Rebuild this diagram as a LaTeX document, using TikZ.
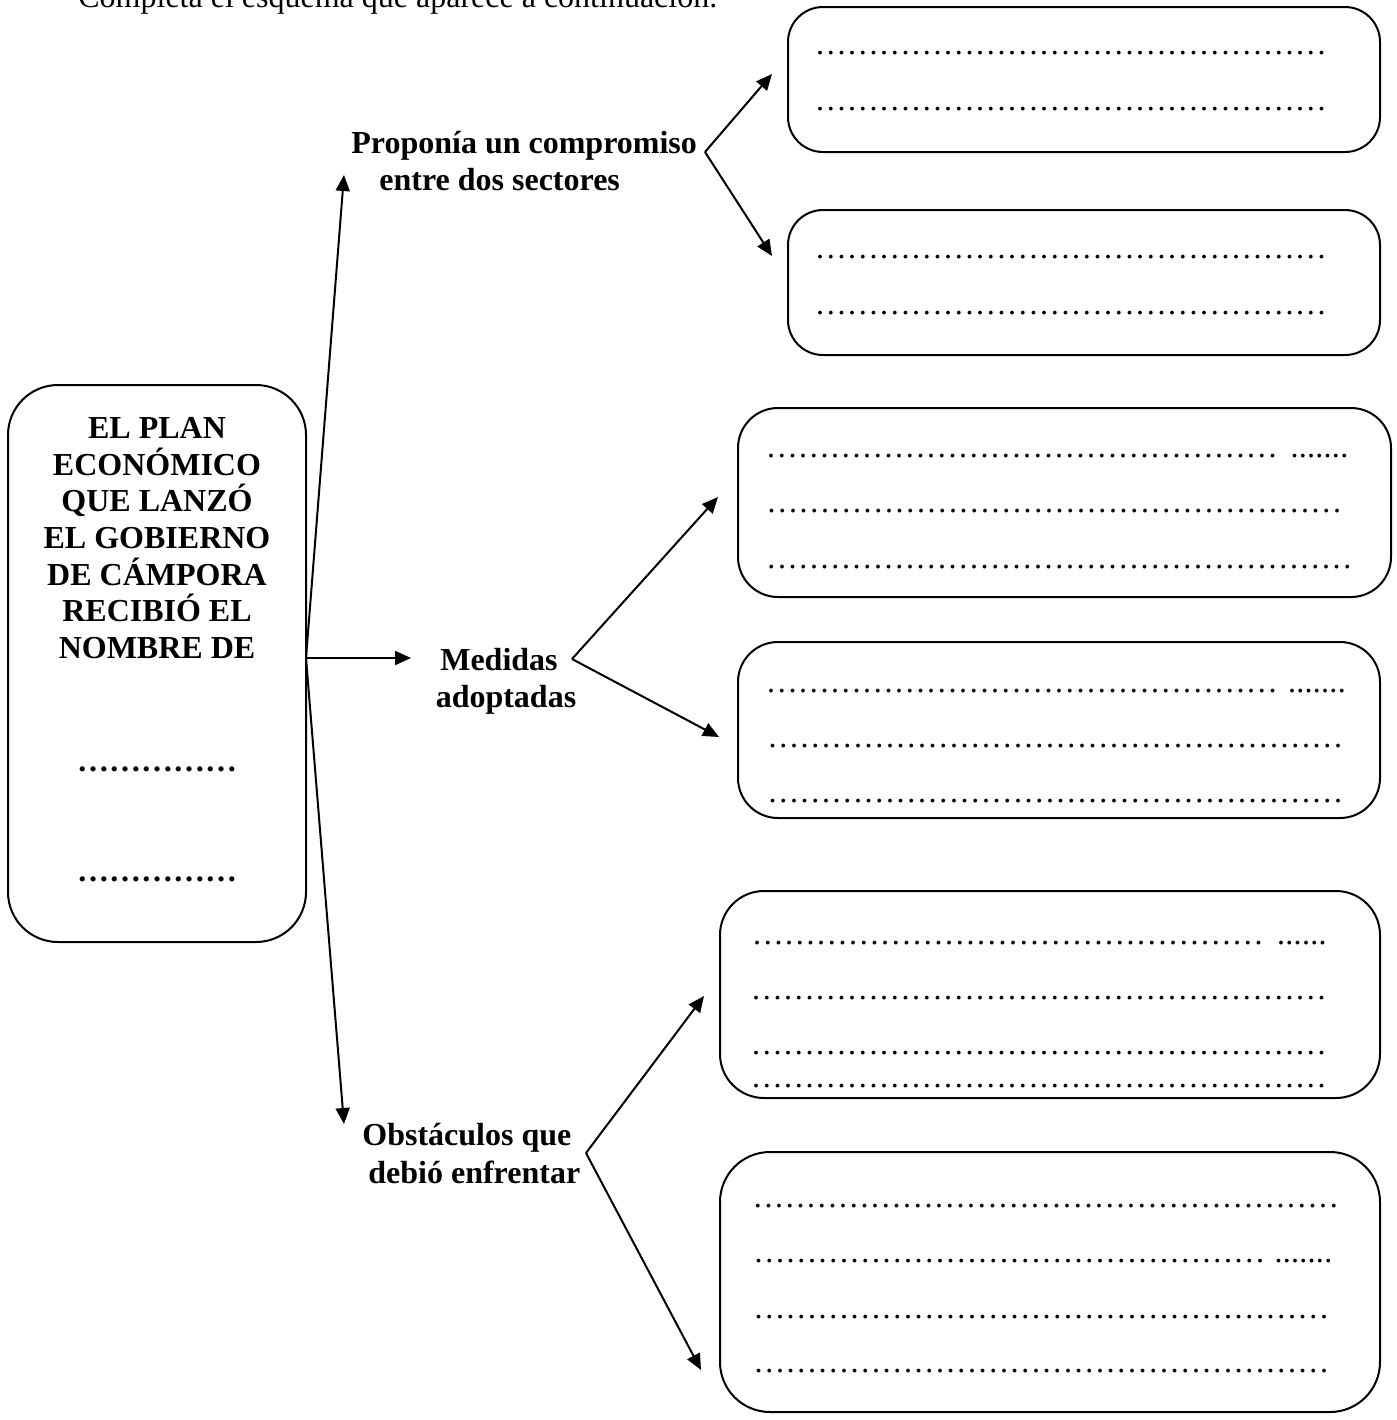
\documentclass[tikz,border=0pt]{standalone}
\usepackage{fontspec}
\setmainfont{Liberation Serif}
\usetikzlibrary{arrows.meta}
% dot row: #1 first dot x (px), #2 last dot x (px), #3 spacing (px); 1px = 0.5pt
\newcommand{\dotrow}[3]{\hbox to \dimexpr(#2pt-#1pt+#3pt)/2\relax{\cleaders\hbox to \dimexpr #3pt/2\relax{\hss.\hss}\hfill}}
\tikzset{
  box/.style={draw, line width=1pt, rounded corners=#1, inner sep=0pt},
  box/.default=17.5pt,
  arr/.style={line width=1pt, -{Triangle[length=8pt,width=7pt]}},
  txt/.style={anchor=base west, inner sep=0pt, font=\fontsize{16pt}{19pt}\selectfont\bfseries},
  ctxt/.style={anchor=base, inner sep=0pt, font=\fontsize{16pt}{19pt}\selectfont\bfseries},
  dr/.style={anchor=base west, inner sep=0pt, font=\fontsize{16pt}{19pt}\selectfont},
}
\begin{document}
\begin{tikzpicture}[x=0.5pt, y=-0.5pt]
\useasboundingbox (0,0) rectangle (1397,1420);

% instruction (cut at top)
\node[anchor=base west, inner sep=0pt, font=\fontsize{16pt}{19pt}\selectfont] (instr) at (78,7) {Completa el esquema que aparece a continuación.};

% main box
\node[box=25pt, minimum width=149pt, minimum height=278.5pt] (main) at (157,663.5) {};
\node[ctxt] (m1) at (157,438) {EL PLAN};
\node[ctxt] (m2) at (157,475) {ECONÓMICO};
\node[ctxt] (m3) at (157,511) {QUE LANZÓ};
\node[ctxt] (m4) at (157,548) {EL GOBIERNO};
\node[ctxt] (m5) at (157,585) {DE CÁMPORA};
\node[ctxt] (m6) at (157,621) {RECIBIÓ EL};
\node[ctxt] (m7) at (157,658) {NOMBRE DE};
\node[ctxt] (m8) at (157,771) {……………};
\node[ctxt] (m9) at (157,881) {……………};

% answer boxes
\node[box=17.5pt, minimum width=296pt, minimum height=72.5pt] (b1) at (1084,79.5) {};
\node[box=17.5pt, minimum width=296pt, minimum height=72.5pt] (b2) at (1084,282.5) {};
\node[box=20pt, minimum width=326.5pt, minimum height=94.5pt] (b3) at (1064.5,502.5) {};
\node[box=20pt, minimum width=321pt, minimum height=88pt] (b4) at (1059,730) {};
\node[box=22pt, minimum width=330pt, minimum height=103.5pt] (b5) at (1050,994.5) {};
\node[box=25pt, minimum width=330pt, minimum height=130pt] (b6) at (1050,1282) {};

% dotted answer lines (ellipsis dots: 10.667px apart; periods: 8.3px apart)
\node[dr] (d1a) at (812.67,54) {\dotrow{818}{1323}{10.667}};
\node[dr] (d1b) at (812.67,110) {\dotrow{818}{1323}{10.667}};
\node[dr] (d2a) at (812.67,258) {\dotrow{818}{1323}{10.667}};
\node[dr] (d2b) at (812.67,314) {\dotrow{818}{1323}{10.667}};

\node[dr] (d3a) at (764.67,457) {\dotrow{770}{1273}{10.667}};
\node[dr] (d3e) at (1285.85,457) {\dotrow{1290}{1348}{8.3}};
\node[dr] (d3b) at (764.67,512) {\dotrow{770}{1338}{10.667}};
\node[dr] (d3c) at (764.67,568) {\dotrow{770}{1348}{10.667}};

\node[dr] (d4a) at (764.67,692) {\dotrow{770}{1273}{10.667}};
\node[dr] (d4e) at (1285.85,692) {\dotrow{1290}{1343}{8.3}};
\node[dr] (d4b) at (764.67,747) {\dotrow{770}{1340}{10.667}};
\node[dr] (d4c) at (764.67,802) {\dotrow{770}{1340}{10.667}};

\node[dr] (d5a) at (746.67,944) {\dotrow{752}{1263}{10.667}};
\node[dr] (d5e) at (1273.85,944) {\dotrow{1278}{1325}{8.3}};
\node[dr] (d5b) at (746.67,999) {\dotrow{752}{1325}{10.667}};
\node[dr] (d5c) at (746.67,1054) {\dotrow{752}{1325}{10.667}};
\node[dr] (d5d) at (746.67,1087) {\dotrow{752}{1325}{10.667}};

\node[dr] (d6a) at (750.67,1207) {\dotrow{756}{1335}{10.667}};
\node[dr] (d6b) at (750.67,1262) {\dotrow{756}{1262}{10.667}};
\node[dr] (d6e) at (1273.85,1262) {\dotrow{1278}{1328}{8.3}};
\node[dr] (d6c) at (750.67,1318) {\dotrow{756}{1326}{10.667}};
\node[dr] (d6d) at (750.67,1372) {\dotrow{756}{1326}{10.667}};

% category labels
\node[txt] (p1) at (351,153) {Proponía un compromiso};
\node[txt] (p2) at (379,190) {entre dos sectores};
\node[ctxt] (med1) at (499,670) {Medidas};
\node[ctxt] (med2) at (506,707) {adoptadas};
\node[txt] (o1) at (362,1145) {Obstáculos que};
\node[txt] (o2) at (368,1183) {debió enfrentar};

% connector points
\coordinate (hub) at (306,658);
\coordinate (tP) at (344,175);
\coordinate (tM) at (411,658);
\coordinate (tO) at (344,1124);
\coordinate (vP) at (705,152);
\coordinate (vM) at (572,659);
\coordinate (vO) at (586,1153);
\coordinate (tP1) at (772,74);
\coordinate (tP2) at (772,256);
\coordinate (tM1) at (718,497);
\coordinate (tM2) at (719,737);
\coordinate (tO1) at (704,996);
\coordinate (tO2) at (701,1370);

\draw[arr] (hub) -- (tP);
\draw[arr] (hub) -- (tM);
\draw[arr] (hub) -- (tO);
\draw[arr] (vP) -- (tP1);
\draw[arr] (vP) -- (tP2);
\draw[arr] (vM) -- (tM1);
\draw[arr] (vM) -- (tM2);
\draw[arr] (vO) -- (tO1);
\draw[arr] (vO) -- (tO2);
\end{tikzpicture}
\end{document}
